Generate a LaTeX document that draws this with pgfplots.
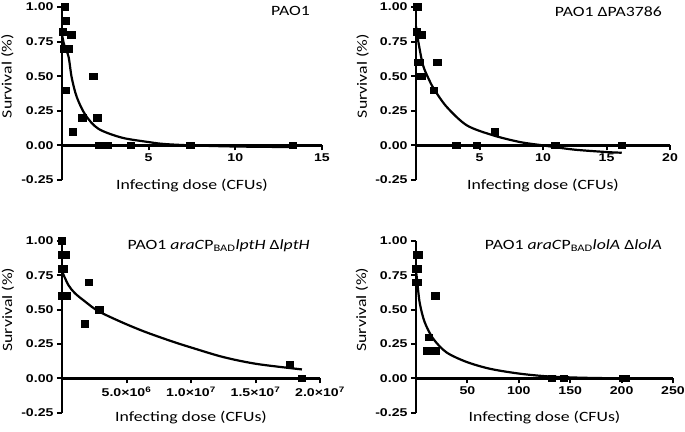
\documentclass[border=0pt]{standalone}
\usepackage{fontspec}
\setmainfont{Carlito}[FakeStretch=1.25]
\newfontfamily\tickfont{Liberation Sans}[FakeStretch=1.25]
\usepackage{pgfplots}
\pgfplotsset{compat=1.18}
\newcommand\lblfnt{\fontsize{14.2bp}{17bp}\selectfont}
\newcommand\tickfnt{\tickfont\bfseries\fontsize{11.3bp}{13bp}\selectfont}
\pgfplotsset{
  prism/.style={
    scale only axis, clip=false,
    axis x line*=middle, axis y line*=left,
    ymin=-0.25, ymax=1,
    ytick={-0.25,0,0.25,0.5,0.75,1},
    yticklabels={-0.25,0.00,0.25,0.50,0.75,1.00},
    /pgf/number format/assume math mode=true,
    tick style={line width=2bp, black},
    major tick length=5bp,
    tick align=outside,
    ticklabel style={font=\tickfnt},
    xlabel={Infecting dose (CFUs)},
    ylabel={Survival (\%)},
    xlabel style={at={(axis description cs:0.5,0)}, anchor=base, yshift=-9.3bp, font=\lblfnt},
    ylabel style={at={(axis description cs:-0.21,0.6)}, anchor=center, font=\lblfnt},
  },
  axl/.style={black, no marks, line width=2.4bp, forget plot},
  pts/.style={black, only marks, mark=square*, mark size=3.3bp, mark options={xscale=1.12}},
  fit/.style={black, no marks, line width=2.2bp, smooth},
}
\begin{document}
\begin{tikzpicture}
\path[use as bounding box] (0,0) rectangle (685bp,432bp);

% PAO1
\begin{axis}[prism, at={(62bp,252bp)}, anchor=south west,
  width=260bp, height=173bp, xmin=0, xmax=15, xtick={5,10,15}]
\addplot[axl] coordinates {(0,-0.25) (0,1)};
\addplot[axl] coordinates {(0,0) (15,0)};
\addplot[fit] coordinates {(0,0.8) (0.08,0.75) (0.17,0.71) (0.38,0.64) (0.56,0.49) (0.85,0.35) (1.35,0.22) (2.1,0.12) (3.45,0.056) (5.0,0.024) (5.9,0.01) (7.5,0) (10,-0.008) (13.2,-0.012)};
\addplot[pts] coordinates {(0.17,1.00) (0.2,0.90) (0.05,0.82) (0.52,0.80) (0.1,0.70) (0.37,0.70) (0.2,0.40) (0.63,0.10) (1.17,0.20) (1.81,0.50) (2.04,0.20) (2.15,0) (2.38,0) (2.63,0) (3.98,0) (7.4,0) (13.3,0)};
\end{axis}
\node[font=\lblfnt, anchor=base east, inner sep=0] at (310bp,416bp) {PAO1};

% PAO1 dPA3786
\begin{axis}[prism, at={(416bp,252bp)}, anchor=south west,
  width=254bp, height=173bp, xmin=0, xmax=20, xtick={5,10,15,20}]
\addplot[axl] coordinates {(0,-0.25) (0,1)};
\addplot[axl] coordinates {(0,0) (20,0)};
\addplot[fit] coordinates {(0,0.86) (0.2,0.74) (0.55,0.58) (1.0,0.48) (1.4,0.41) (2.4,0.28) (4.0,0.145) (6.1,0.072) (8.2,0.024) (10,0) (12.4,-0.03) (15,-0.048) (16.2,-0.053)};
\addplot[pts] coordinates {(0.08,1.0) (0.05,0.82) (0.42,0.8) (0.16,0.6) (0.29,0.6) (0.29,0.5) (0.4,0.5) (1.4,0.4) (1.66,0.6) (3.18,0) (4.76,0) (6.2,0.1) (10.95,0) (16.2,0)};
\end{axis}
\node[font=\lblfnt, anchor=base east, inner sep=0] at (662bp,415.5bp) {PAO1 ΔPA3786};

% lptH
\begin{axis}[prism, at={(62bp,19.3bp)}, anchor=south west,
  width=258bp, height=171.7bp, xmin=0, xmax=20, xtick={5,10,15,20},
  xticklabels={5.0×10\textsuperscript{6},1.0×10\textsuperscript{7},1.5×10\textsuperscript{7},2.0×10\textsuperscript{7}}]
\addplot[axl] coordinates {(0,-0.25) (0,1)};
\addplot[axl] coordinates {(0,0) (20,0)};
\addplot[fit] coordinates {(0,0.78) (0.49,0.68) (1.0,0.62) (1.78,0.56) (2.8,0.49) (4.6,0.41) (6.4,0.34) (8.5,0.27) (10,0.225) (12.5,0.155) (15.1,0.105) (18.6,0.065)};
\addplot[pts] coordinates {(0,1.0) (0,0.9) (0.26,0.9) (0,0.8) (0.1,0.8) (0,0.6) (0.33,0.6) (1.76,0.4) (2.07,0.7) (2.88,0.5) (17.67,0.1) (18.6,0)};
\end{axis}
\node[font=\lblfnt, anchor=base east, inner sep=0] at (310bp,182.5bp) {PAO1 \textit{araC}P\textsubscript{BAD}\textit{lptH} Δ\textit{lptH}};

% lolA
\begin{axis}[prism, at={(416bp,19.3bp)}, anchor=south west,
  width=257bp, height=171.7bp, xmin=0, xmax=250, xtick={50,100,150,200,250}]
\addplot[axl] coordinates {(0,-0.25) (0,1)};
\addplot[axl] coordinates {(0,0) (250,0)};
\addplot[fit] coordinates {(0,0.78) (1,0.72) (3.6,0.55) (8.4,0.41) (16.6,0.29) (29.5,0.19) (49,0.12) (71.8,0.07) (99,0.036) (127,0.015) (159,0.005) (198,0) (205,-0.001)};
\addplot[pts] coordinates {(1,0.9) (2.3,0.9) (0,0.8) (1.3,0.8) (0,0.7) (1,0.7) (18.8,0.6) (12.3,0.3) (10.7,0.2) (15,0.2) (19.2,0.2) (131.8,0) (143.8,0) (201,0) (203.5,0)};
\end{axis}
\node[font=\lblfnt, anchor=base east, inner sep=0] at (662bp,182.7bp) {PAO1 \textit{araC}P\textsubscript{BAD}\textit{lolA} Δ\textit{lolA}};
\end{tikzpicture}
\end{document}
